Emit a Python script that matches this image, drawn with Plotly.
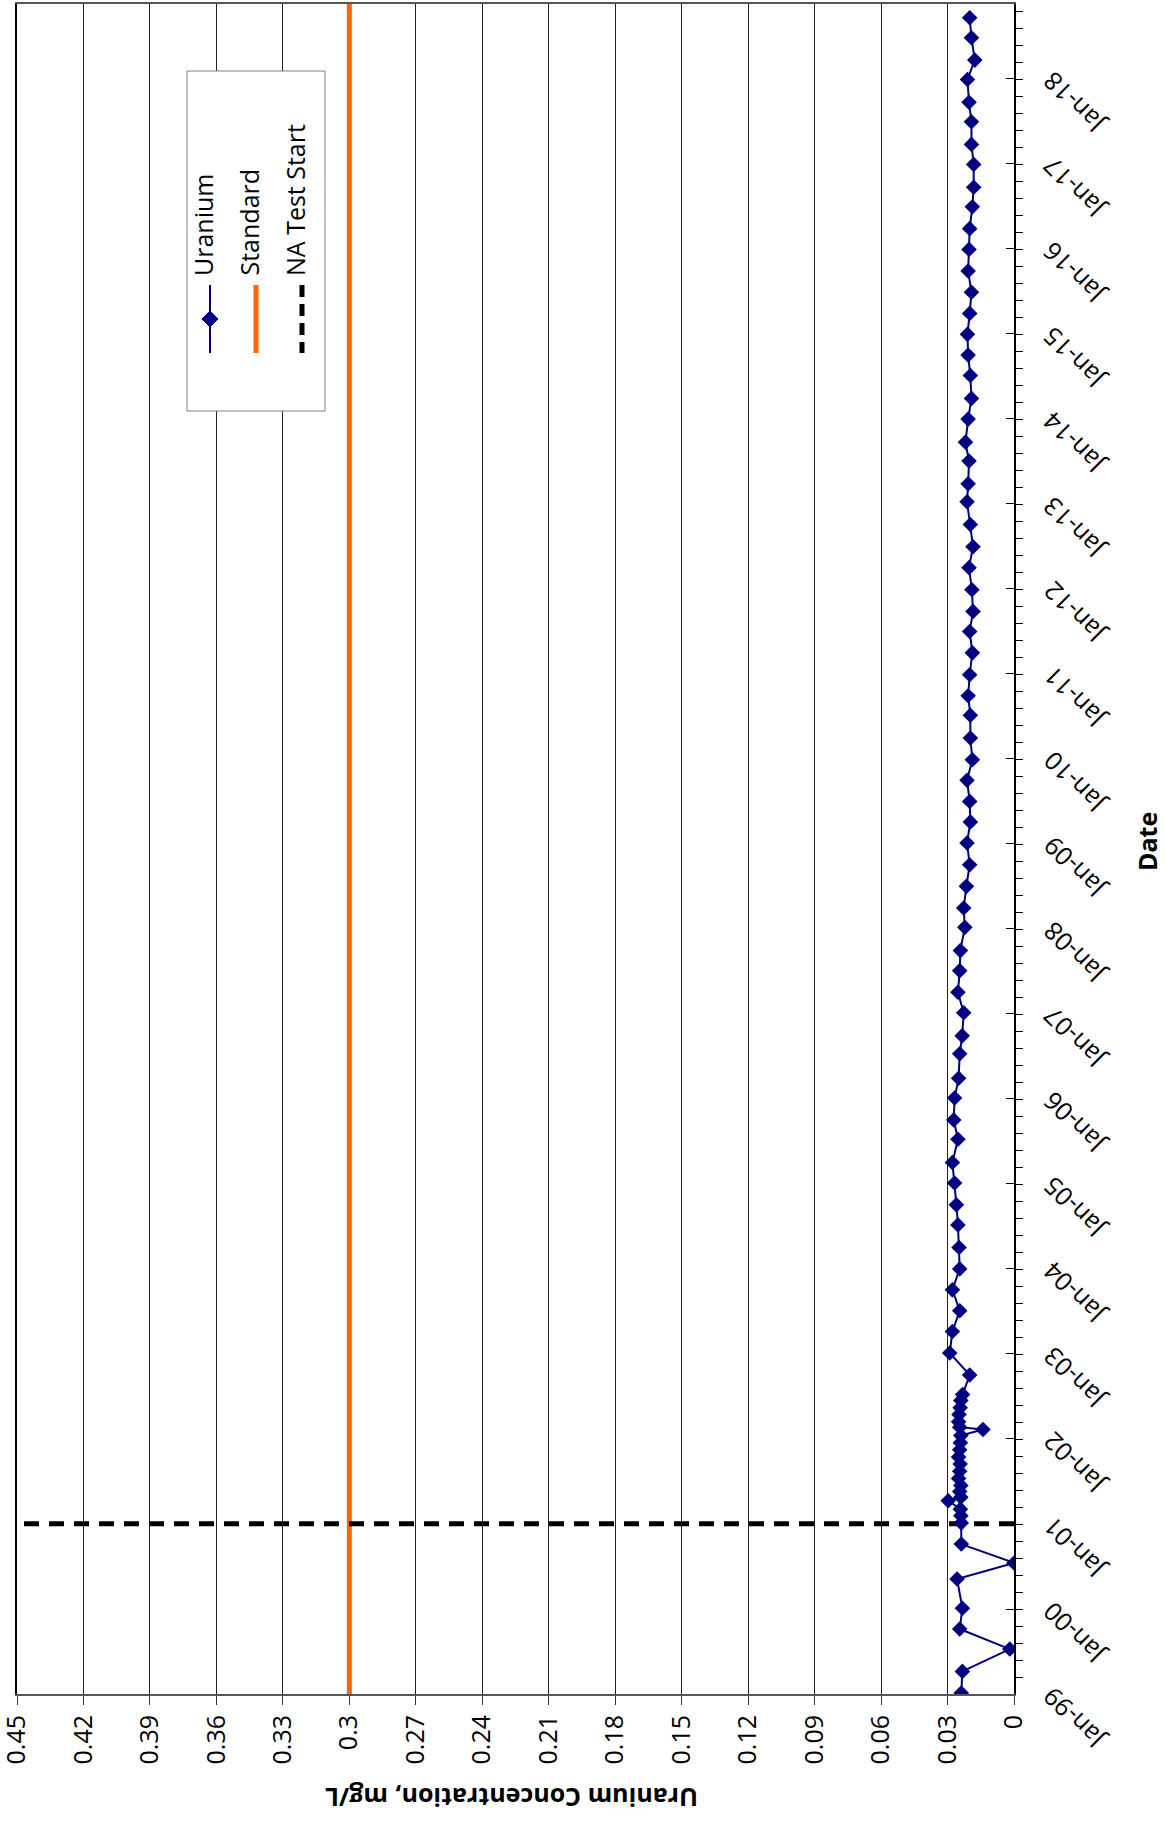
import plotly.graph_objects as go

# ---------------- data ----------------
uranium_dates = [
    "1999-01-05", "1999-04-08", "1999-07-13", "1999-10-07", "2000-01-04", "2000-05-09",
    "2000-07-17", "2000-10-06", "2001-01-05", "2001-02-05", "2001-03-05", "2001-04-10",
    "2001-04-25", "2001-05-20", "2001-06-15", "2001-07-15", "2001-08-15", "2001-09-15",
    "2001-10-15", "2001-11-15", "2001-12-15", "2002-01-15", "2002-02-10", "2002-02-20",
    "2002-03-15", "2002-04-15", "2002-05-15", "2002-06-15", "2002-07-10", "2002-10-02",
    "2003-01-05", "2003-04-07", "2003-07-05", "2003-10-03", "2004-01-01", "2004-04-02",
    "2004-07-08", "2004-10-02", "2005-01-04", "2005-04-02", "2005-07-11", "2005-10-02",
    "2006-01-04", "2006-03-30", "2006-07-13", "2006-09-28", "2007-01-05", "2007-04-03",
    "2007-07-05", "2007-09-29", "2008-01-07", "2008-03-30", "2008-07-01", "2008-10-02",
    "2009-01-03", "2009-04-04", "2009-07-01", "2009-09-30", "2009-12-27", "2010-03-30",
    "2010-07-06", "2010-09-28", "2010-12-27", "2011-03-31", "2011-07-01", "2011-09-25",
    "2011-12-27", "2012-03-31", "2012-06-29", "2012-10-02", "2013-01-08", "2013-03-26",
    "2013-07-02", "2013-09-21", "2013-12-29", "2014-03-28", "2014-07-04", "2014-09-30",
    "2014-12-28", "2015-03-28", "2015-06-27", "2015-09-26", "2015-12-28", "2016-03-26",
    "2016-06-28", "2016-09-20", "2016-12-27", "2017-03-23", "2017-06-28", "2017-09-20",
    "2017-12-27", "2018-03-20", "2018-06-24", "2018-09-18",
]
uranium_values = [
    0.0238, 0.0233, 0.0019, 0.0245, 0.0233, 0.0257,
    0.0000, 0.0238, 0.0238, 0.0240, 0.0242, 0.0297,
    0.0240, 0.0245, 0.0240, 0.0250, 0.0245, 0.0243,
    0.0250, 0.0245, 0.0242, 0.0240, 0.0140, 0.0245,
    0.0250, 0.0248, 0.0243, 0.0240, 0.0232, 0.0200,
    0.0290, 0.0278, 0.0245, 0.0278, 0.0245, 0.0248,
    0.0253, 0.0260, 0.0268, 0.0278, 0.0253, 0.0272,
    0.0268, 0.0250, 0.0245, 0.0234, 0.0227, 0.0253,
    0.0245, 0.0242, 0.0222, 0.0227, 0.0215, 0.0200,
    0.0212, 0.0197, 0.0200, 0.0212, 0.0188, 0.0197,
    0.0197, 0.0207, 0.0200, 0.0188, 0.0200, 0.0185,
    0.0190, 0.0203, 0.0185, 0.0197, 0.0212, 0.0207,
    0.0203, 0.0219, 0.0207, 0.0192, 0.0197, 0.0207,
    0.0210, 0.0200, 0.0192, 0.0207, 0.0203, 0.0200,
    0.0188, 0.0182, 0.0182, 0.0192, 0.0192, 0.0203,
    0.0210, 0.0177, 0.0192, 0.0200,
]
standard_value = 0.3
na_test_start = "2001-01-01"
date_range = ["1999-01-01", "2018-11-16"]
conc_range = [0.45, 0.0]

conc_tick_values = [0.45, 0.42, 0.39, 0.36, 0.33, 0.30, 0.27, 0.24, 0.21, 0.18,
                    0.15, 0.12, 0.09, 0.06, 0.03, 0.0]
conc_tick_labels = ["0.45", "0.42", "0.39", "0.36", "0.33", "0.3", "0.27", "0.24", "0.21",
                    "0.18", "0.15", "0.12", "0.09", "0.06", "0.03", "0"]
date_tick_values = [f"{y}-01-01" for y in range(1999, 2019)]
date_tick_labels = [f"Jan-{y % 100:02d}" for y in range(1999, 2019)]

legend_labels = ["Uranium", "Standard", "NA Test Start"]
x_title = "Uranium Concentration, mg/L"
y_title = "Date"

NAVY = "#000080"
ORANGE = "#FF6600"
FONT = "Open Sans"

W, H = 1165, 1822
ML, MR, MT, MB = 17, 151, 4, 128
PW, PH = W - ML - MR, H - MT - MB


def xp(px):
    return (px - ML) / PW


def yp(py):
    return (H - MB - py) / PH


fig = go.Figure()

# Standard line
fig.add_trace(go.Scatter(
    x=[standard_value, standard_value], y=date_range, mode="lines",
    line=dict(color=ORANGE, width=5), showlegend=False, hoverinfo="skip"))

# NA Test Start
fig.add_trace(go.Scatter(
    x=[conc_range[1], conc_range[0]], y=[na_test_start, na_test_start], mode="lines",
    line=dict(color="black", width=5, dash="15px,10px"), showlegend=False, hoverinfo="skip"))

# Uranium
fig.add_trace(go.Scatter(
    x=uranium_values, y=uranium_dates, mode="lines+markers",
    line=dict(color=NAVY, width=2),
    marker=dict(symbol="diamond", size=12, color=NAVY),
    showlegend=False))

# ---------------- custom rotated legend ----------------
shapes = []
annotations = []
shapes.append(dict(type="rect", xref="paper", yref="paper",
                   x0=xp(187), x1=xp(325), y0=yp(71), y1=yp(411),
                   line=dict(color="#808080", width=1), fillcolor="white", layer="above"))
leg_x = [210, 256, 302]
shapes.append(dict(type="line", xref="paper", yref="paper", x0=xp(210), x1=xp(210),
                   y0=yp(285), y1=yp(353), line=dict(color=NAVY, width=2), layer="above"))
cx, cy, r = 210, 319, 8
shapes.append(dict(type="path", xref="paper", yref="paper",
                   path=f"M {xp(cx)} {yp(cy - r)} L {xp(cx + r)} {yp(cy)} L {xp(cx)} {yp(cy + r)} L {xp(cx - r)} {yp(cy)} Z",
                   fillcolor=NAVY, line=dict(color=NAVY, width=1), layer="above"))
shapes.append(dict(type="line", xref="paper", yref="paper", x0=xp(256), x1=xp(256),
                   y0=yp(285), y1=yp(353), line=dict(color=ORANGE, width=5), layer="above"))
shapes.append(dict(type="line", xref="paper", yref="paper", x0=xp(302), x1=xp(302),
                   y0=yp(285), y1=yp(353), line=dict(color="black", width=5, dash="12px,7px"),
                   layer="above"))
for lx, lab in zip(leg_x, legend_labels):
    annotations.append(dict(text=lab, xref="paper", yref="paper", x=xp(lx - 7), y=yp(278),
                            xanchor="center", yanchor="bottom", textangle=-90, showarrow=False,
                            font=dict(family=FONT, size=25, color="black")))

# date tick labels (rotated)
for tv, tl in zip(date_tick_values, date_tick_labels):
    annotations.append(dict(text=tl, xref="paper", yref="y", x=xp(1074), y=tv,
                            xanchor="center", yanchor="middle", yshift=-25,
                            textangle=-135, showarrow=False,
                            font=dict(family=FONT, size=25, color="black")))

# axis titles
annotations.append(dict(text=f"<b>{x_title}</b>", xref="paper", yref="paper",
                        x=xp(512), y=yp(1798), xanchor="center", yanchor="middle",
                        textangle=180, showarrow=False,
                        font=dict(family=FONT, size=25, color="black")))
annotations.append(dict(text=f"<b>{y_title}</b>", xref="paper", yref="paper",
                        x=xp(1147), y=yp(842), xanchor="center", yanchor="middle",
                        textangle=-90, showarrow=False,
                        font=dict(family=FONT, size=25, color="black")))

fig.update_layout(
    width=W, height=H,
    margin=dict(l=ML, r=MR, t=MT, b=MB, autoexpand=False),
    plot_bgcolor="white", paper_bgcolor="white",
    font=dict(family=FONT, size=25, color="black"),
    shapes=shapes, annotations=annotations,
    showlegend=False,
)

fig.update_xaxes(
    range=conc_range, tickmode="array", tickvals=conc_tick_values, ticktext=conc_tick_labels,
    showgrid=True, gridcolor="#222222", gridwidth=1,
    zeroline=False, showline=True, linecolor="#555555", linewidth=2, mirror=True,
    ticks="outside", ticklen=9, tickcolor="#333333",
    tickangle=-90, tickfont=dict(family=FONT, size=25),
    ticklabeloverflow="allow", automargin=False,
)
fig.update_yaxes(
    type="date", range=date_range, side="right",
    tickvals=date_tick_values, showticklabels=False,
    showgrid=False, zeroline=False, automargin=False,
    showline=True, linecolor="black", linewidth=2, mirror=True,
    ticks="inside", ticklen=8, tickcolor="black",
    minor=dict(ticks="outside", ticklen=7, tickcolor="black",
               dtick=73 * 86400000, tick0="1999-01-01", showgrid=False),
)

fig.write_html("out.html", config={"displayModeBar": False},
               post_script="document.body.style.margin='0';")
